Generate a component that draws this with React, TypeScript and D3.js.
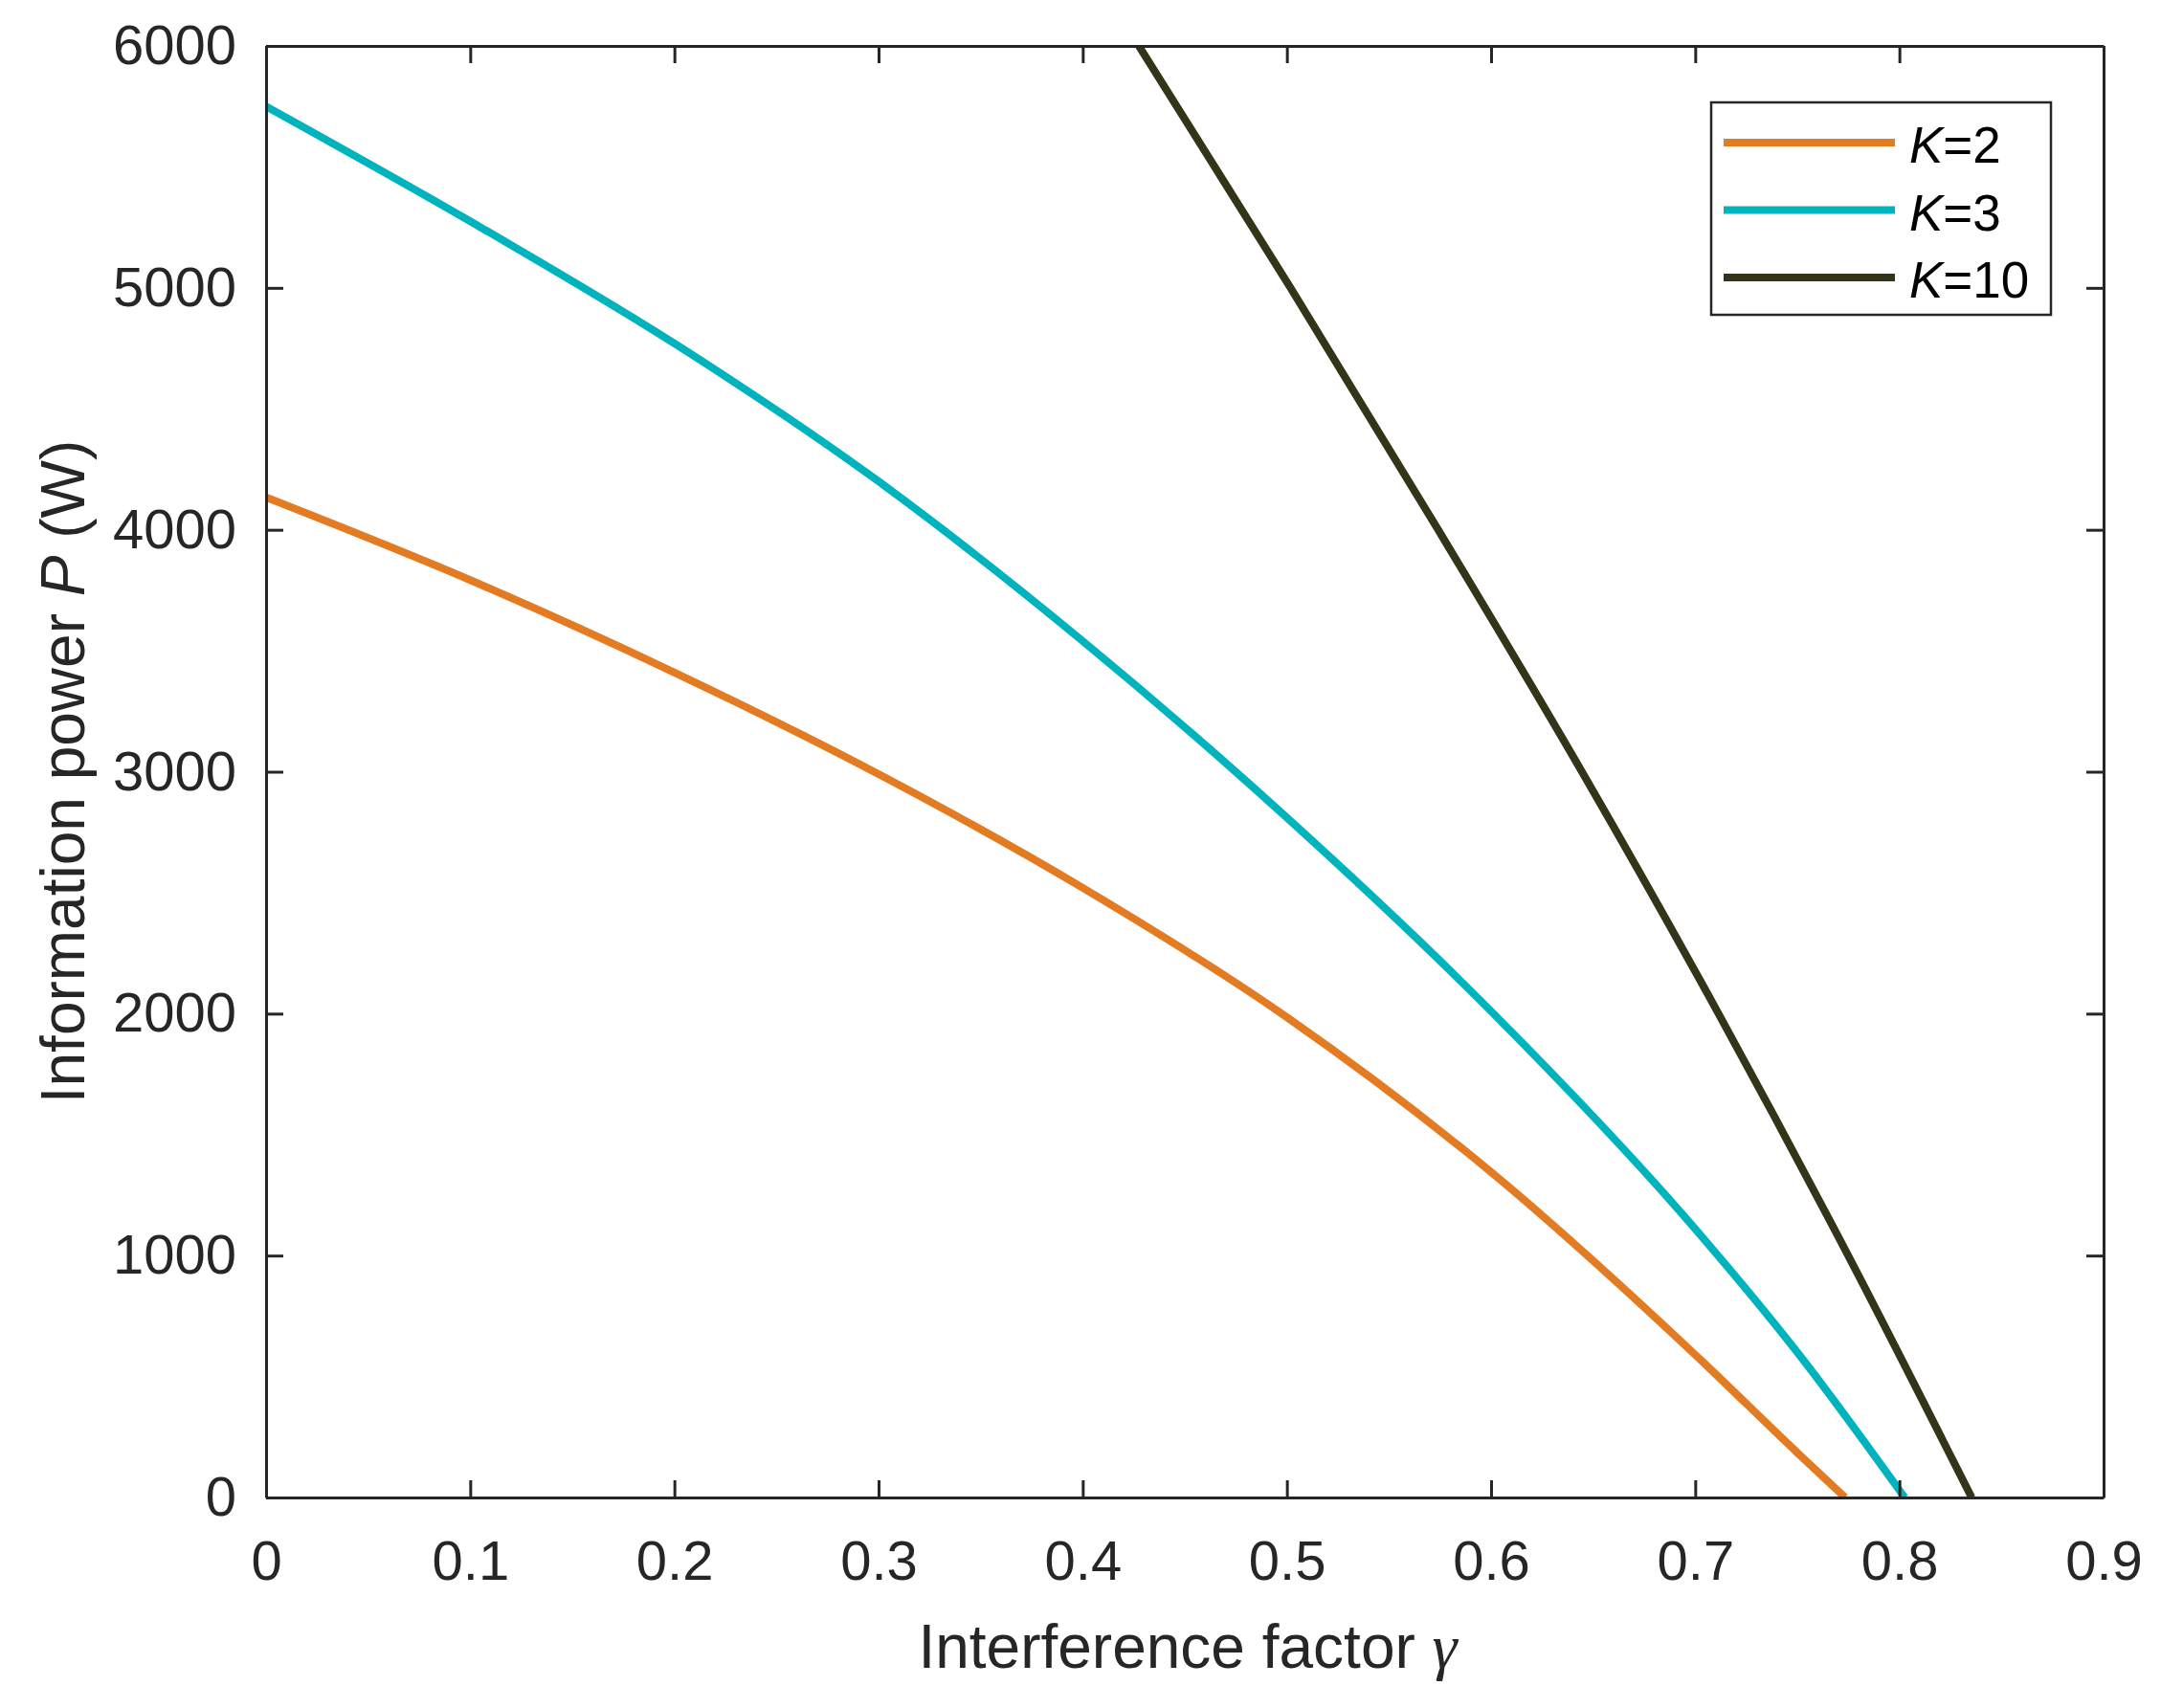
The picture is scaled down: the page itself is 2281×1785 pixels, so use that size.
import * as d3 from "d3";
import { useEffect, useRef } from "react";

// values
const gammaK2 = [0, 0.1, 0.2, 0.3, 0.4, 0.5, 0.6, 0.7, 0.75, 0.7734];
const powerK2 = [4134, 3792, 3410, 2990, 2520, 1985, 1345, 590, 185, 0];

const gammaK3 = [0, 0.1, 0.2, 0.3, 0.4, 0.5, 0.6, 0.7, 0.75, 0.8026];
const powerK3 = [5750, 5275, 4770, 4200, 3540, 2810, 2010, 1110, 600, 0];

const gammaK10 = [0.4275, 0.5018, 0.5741, 0.6445, 0.7114, 0.7749, 0.8354];
const powerK10 = [6000, 5000, 4000, 3000, 2000, 1000, 0];

const xTicks = [0, 0.1, 0.2, 0.3, 0.4, 0.5, 0.6, 0.7, 0.8, 0.9];
const yTicks = [0, 1000, 2000, 3000, 4000, 5000, 6000];

const series = [
    { k: "2", gamma: gammaK2, power: powerK2, color: "#E37B23" },
    { k: "3", gamma: gammaK3, power: powerK3, color: "#00B3BD" },
    { k: "10", gamma: gammaK10, power: powerK10, color: "#343419" },
];

const FONT = "'Liberation Sans', Arial, Helvetica, sans-serif";
const INK = "#262626";

export default function App() {
    const ref = useRef<SVGSVGElement | null>(null);

    useEffect(() => {
        if (!ref.current) return;

        const width = 2281;
        const height = 1785;
        const margin = { top: 48, right: 83, bottom: 220, left: 278 };
        const innerW = width - margin.left - margin.right;
        const innerH = height - margin.top - margin.bottom;

        const svg = d3.select(ref.current);
        svg.selectAll("*").remove();

        const x = d3.scaleLinear().domain([0, 0.9]).range([margin.left, width - margin.right]);
        const y = d3.scaleLinear().domain([0, 6000]).range([height - margin.bottom, margin.top]);

        svg.append("defs")
            .append("clipPath")
            .attr("id", "plot-clip")
            .append("rect")
            .attr("x", margin.left)
            .attr("y", margin.top)
            .attr("width", innerW)
            .attr("height", innerH);

        // Lines
        const line = d3
            .line<[number, number]>()
            .x((d) => x(d[0]))
            .y((d) => y(d[1]))
            .curve(d3.curveMonotoneX);

        const lines = svg.append("g").attr("clip-path", "url(#plot-clip)");
        series.forEach((s) => {
            const pts = s.gamma.map((g, i) => [g, s.power[i]] as [number, number]);
            lines
                .append("path")
                .attr("d", line(pts)!)
                .attr("fill", "none")
                .attr("stroke", s.color)
                .attr("stroke-width", 8)
                .attr("stroke-linejoin", "round");
        });

        const fmtX = (d: d3.NumberValue) => String(+(+d).toFixed(1));

        const styleAxis = (g: d3.Selection<SVGGElement, unknown, null, undefined>) => {
            g.attr("font-family", FONT).attr("font-size", 58);
            g.selectAll("path.domain").attr("stroke", INK).attr("stroke-width", 3);
            g.selectAll(".tick line").attr("stroke", INK).attr("stroke-width", 3);
            g.selectAll(".tick text").attr("fill", INK);
        };

        // Axes (box with inward ticks)
        svg.append("g")
            .attr("transform", `translate(0,${height - margin.bottom})`)
            .call(d3.axisBottom(x).tickValues(xTicks).tickFormat(fmtX).tickSizeInner(-18).tickSizeOuter(0).tickPadding(45))
            .call(styleAxis);

        svg.append("g")
            .attr("transform", `translate(0,${margin.top})`)
            .call(d3.axisTop(x).tickValues(xTicks).tickFormat(() => "").tickSizeInner(-18).tickSizeOuter(0))
            .call(styleAxis);

        svg.append("g")
            .attr("transform", `translate(${margin.left},0)`)
            .call(d3.axisLeft(y).tickValues(yTicks).tickFormat(d3.format("d")).tickSizeInner(-18).tickSizeOuter(0).tickPadding(31))
            .call(styleAxis);

        svg.append("g")
            .attr("transform", `translate(${width - margin.right},0)`)
            .call(d3.axisRight(y).tickValues(yTicks).tickFormat(() => "").tickSizeInner(-18).tickSizeOuter(0))
            .call(styleAxis);

        // Axis labels
        const xl = svg.append("text")
            .attr("x", margin.left + innerW / 2 + 3)
            .attr("y", 1743)
            .attr("text-anchor", "middle")
            .attr("font-family", FONT)
            .attr("font-size", 64)
            .attr("fill", INK);
        xl.append("tspan").text("Interference factor ");
        xl.append("tspan")
            .attr("font-family", "'Liberation Serif', 'DejaVu Serif', serif")
            .attr("font-style", "italic")
            .attr("font-size", 66)
            .text("γ");

        const yl = svg.append("text")
            .attr("transform", `translate(88,${margin.top + innerH / 2}) rotate(-90)`)
            .attr("text-anchor", "middle")
            .attr("font-family", FONT)
            .attr("font-size", 64)
            .attr("fill", INK);
        yl.append("tspan").text("Information power ");
        yl.append("tspan").attr("font-style", "italic").text("P");
        yl.append("tspan").text(" (W)");

        // Legend
        const lg = svg.append("g");
        lg.append("rect")
            .attr("x", 1788)
            .attr("y", 107)
            .attr("width", 355)
            .attr("height", 222)
            .attr("fill", "#fff")
            .attr("stroke", INK)
            .attr("stroke-width", 2.5);

        series.forEach((s, i) => {
            const cy = 149 + i * 70.5;
            lg.append("line")
                .attr("x1", 1801)
                .attr("x2", 1980)
                .attr("y1", cy)
                .attr("y2", cy)
                .attr("stroke", s.color)
                .attr("stroke-width", 8);
            const t = lg.append("text")
                .attr("x", 1995)
                .attr("y", cy + 21)
                .attr("font-family", FONT)
                .attr("font-size", 53)
                .attr("fill", "#000");
            t.append("tspan").attr("font-style", "italic").text("K");
            t.append("tspan").text("=" + s.k);
        });
    }, []);

    return (
        <div style={{ position: "absolute", left: 0, top: 0 }}>
            <svg ref={ref} width={2281} height={1785} style={{ display: "block", background: "#fff" }}></svg>
        </div>
    );
}
